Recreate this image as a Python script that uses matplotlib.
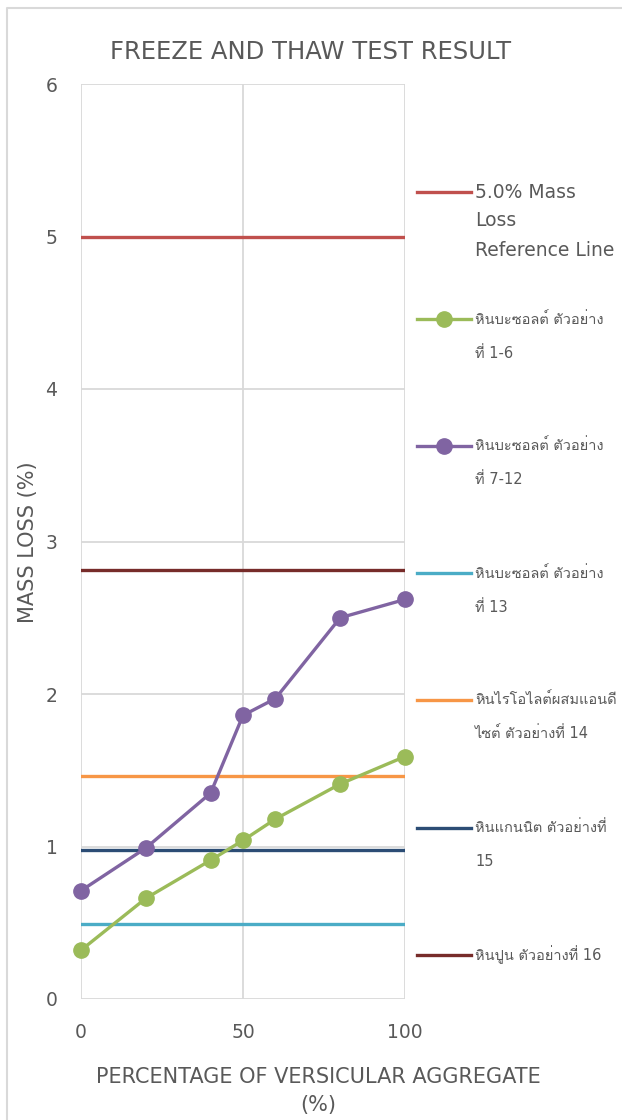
import numpy as np
import matplotlib.pyplot as plt
from matplotlib import font_manager
from matplotlib.ft2font import FT2Font
from matplotlib.lines import Line2D


def find_thai_font():
    # pick any installed font that carries Thai glyphs
    for f in font_manager.fontManager.ttflist:
        try:
            cmap = FT2Font(f.fname).get_charmap()
        except Exception:
            continue
        if 0x0E2B in cmap and 0x0E19 in cmap:
            return f.name
    return None


thai = find_thai_font()
plt.rcParams['font.family'] = ['DejaVu Sans'] + ([thai] if thai else [])

# ============== data ==============
pct = [0, 20, 40, 50, 60, 80, 100]
basalt_1_6 = [0.32, 0.66, 0.91, 1.04, 1.18, 1.41, 1.59]
basalt_7_12 = [0.71, 0.99, 1.35, 1.86, 1.97, 2.50, 2.62]

ref_x = [0, 100]
ref_limit = 5.0
basalt_13 = 0.49
rhyolite_14 = 1.46
granite_15 = 0.98
limestone_16 = 2.81

labels = ["5.0% Mass\nLoss\nReference Line",
          "หินบะซอลต์ ตัวอย่าง\nที่ 1-6",
          "หินบะซอลต์ ตัวอย่าง\nที่ 7-12",
          "หินบะซอลต์ ตัวอย่าง\nที่ 13",
          "หินไรโอไลต์ผสมแอนดี\nไซต์ ตัวอย่างที่ 14",
          "หินแกนนิต ตัวอย่างที่\n15",
          "หินปูน ตัวอย่างที่ 16"]

colors = ['#C0504D', '#9BBB59', '#8064A2', '#4BACC6', '#F79646', '#2C4D75', '#772C2A']
grey = '#595959'
lw = 2.4
ms = 11

W, H = 622, 1120
fig = plt.figure(figsize=(W / 100, H / 100), dpi=100)

# chart outline (top and left edges only show)
fig.add_artist(Line2D([6.5 / W, 6.5 / W, 1.0], [0.0, 1 - 8 / H, 1 - 8 / H],
                      transform=fig.transFigure, color='#D9D9D9', lw=1.5))

ax = fig.add_axes([81 / W, 1 - 999 / H, 324 / W, 915 / H])

h = []
h += ax.plot(ref_x, [ref_limit] * 2, color=colors[0], lw=lw)
h += ax.plot(pct, basalt_1_6, color=colors[1], lw=lw, marker='o', ms=ms, clip_on=False, zorder=5)
h += ax.plot(pct, basalt_7_12, color=colors[2], lw=lw, marker='o', ms=ms, clip_on=False, zorder=5)
h += ax.plot(ref_x, [basalt_13] * 2, color=colors[3], lw=lw)
h += ax.plot(ref_x, [rhyolite_14] * 2, color=colors[4], lw=lw)
h += ax.plot(ref_x, [granite_15] * 2, color=colors[5], lw=lw)
h += ax.plot(ref_x, [limestone_16] * 2, color=colors[6], lw=lw)

ax.set_xlim(0, 100)
ax.set_ylim(0, 6)
ax.set_xticks([0, 50, 100])
ax.set_yticks(range(7))
ax.grid(True, color='#D9D9D9', lw=1.3)
ax.set_axisbelow(True)
for s in ax.spines.values():
    s.set_visible(False)
ax.tick_params(length=0, labelsize=13.5, labelcolor=grey, pad=17)

fig.text(318 / W, 1 - 1091 / H, "PERCENTAGE OF VERSICULAR AGGREGATE\n(%)", fontsize=15,
         color=grey, ha='center', va='center', linespacing=1.55)
fig.text(28 / W, 1 - 542 / H, "MASS LOSS (%)", fontsize=15, color=grey,
         rotation=90, ha='center', va='center')
fig.text(311 / W, 1 - 52 / H, "FREEZE AND THAW TEST RESULT", fontsize=17.5, color=grey,
         ha='center', va='center')

# legend, one entry per series, handle level with the first text line
entry_y = [192, 319, 446, 573, 700, 828, 955]
for i, (line, lab, y) in enumerate(zip(h, labels, entry_y)):
    yf = 1 - y / H
    fig.add_artist(Line2D([417 / W, 471 / W], [yf, yf], transform=fig.transFigure,
                          color=line.get_color(), lw=lw))
    if line.get_marker() == 'o':
        fig.add_artist(Line2D([444 / W], [yf], transform=fig.transFigure, marker='o',
                              ms=ms, color=line.get_color(), lw=0))
    size, gap = (13.5, 29) if i == 0 else (10.5, 34)
    for k, txt in enumerate(lab.split('\n')):
        fig.text(475 / W, 1 - (y + k * gap) / H, txt, fontsize=size, color=grey,
                 ha='left', va='center')

fig.savefig('out.png', dpi=100)
